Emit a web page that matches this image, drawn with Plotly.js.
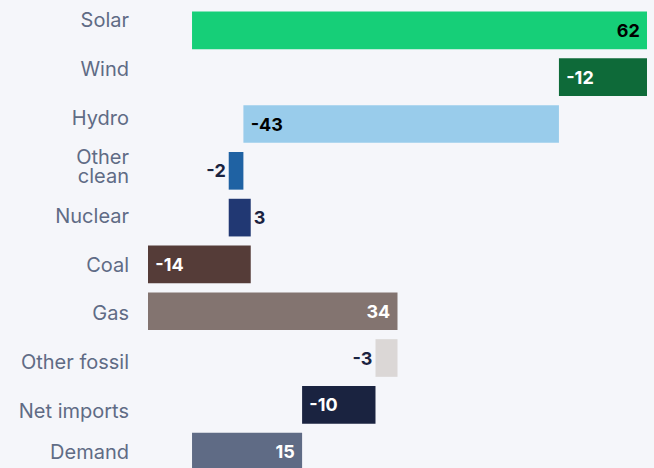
<!DOCTYPE html>
<html>
<head>
<meta charset="utf-8">
<script src="https://cdn.plot.ly/plotly-3.0.1.min.js"></script>
<style>
  html, body { margin: 0; padding: 0; background: #f5f6fa; }
  #chart { width: 654px; height: 468px; }
</style>
</head>
<body>
<div id="chart"></div>
<script>
const categories = ["Solar", "Wind", "Hydro", "Other<br>clean", "Nuclear", "Coal", "Gas", "Other fossil", "Net imports", "Demand"];
const changes = [62, -12, -43, -2, 3, -14, 34, -3, -10, 15];
const measures = ["relative", "relative", "relative", "relative", "relative", "relative", "relative", "relative", "relative", "total"];
const barColors = ["#16cf78", "#0e6a39", "#99cceb", "#1f62a3", "#213873", "#553c38", "#837470", "#dbd7d6", "#1a2340", "#5f6b85"];
const textPositions = ["inside", "inside", "inside", "outside", "outside", "inside", "inside", "outside", "inside", "inside"];
const textColors = ["#000000", "#ffffff", "#000000", "#1a2340", "#1a2340", "#ffffff", "#ffffff", "#1a2340", "#ffffff", "#ffffff"];

// waterfall bases computed from the changes
const bases = [];
let running = 0;
changes.forEach((v, i) => {
  if (measures[i] === "total") { bases.push(0); }
  else { bases.push(running); running += v; }
});
const NB = "\u00a0";
const labels = changes.map((v, i) => {
  const s = String(v);
  if (textPositions[i] !== "inside") return s;
  return v < 0 ? NB + s : s + NB;
});

// category label ticks (separate label axis; multi-line labels split into lines)
const LINE_GAP = 0.39;       // label line spacing in category units
const LAST_LABEL_MAX = 8.83; // keep the last label inside the frame
const labelVals = [], labelText = [];
categories.forEach((c, i) => {
  const pos = Math.min(i, LAST_LABEL_MAX);
  const lines = c.split("<br>");
  lines.forEach((ln, k) => {
    labelVals.push(pos + (k - (lines.length - 1) / 2) * LINE_GAP);
    labelText.push(ln);
  });
});

const FONT = "Inter, 'Open Sans', sans-serif";

const trace = {
  type: "bar",
  orientation: "h",
  y: categories,
  x: changes,
  base: bases,
  marker: { color: barColors, line: { width: 0 } },
  text: labels,
  textposition: textPositions,
  insidetextanchor: "end",
  textfont: { family: FONT, size: 18, color: textColors, weight: 700 },
  constraintext: "none",
  cliponaxis: false,
  hoverinfo: "skip"
};

// invisible carrier so the label axis is drawn
const labelCarrier = {
  type: "scatter",
  mode: "markers",
  x: labelVals.map(() => 0),
  y: labelVals,
  yaxis: "y2",
  marker: { opacity: 0, size: 1 },
  hoverinfo: "skip",
  showlegend: false
};

const layout = {
  width: 654,
  height: 468,
  margin: { l: 148, r: 7, t: 7, b: 0, pad: 0 },
  paper_bgcolor: "#f5f6fa",
  plot_bgcolor: "#f5f6fa",
  showlegend: false,
  bargap: 0.195,
  font: { family: FONT, color: "#5f6b85", size: 20 },
  xaxis: {
    range: [-6, 62],
    showgrid: false,
    zeroline: false,
    showticklabels: false,
    showline: false,
    fixedrange: true
  },
  yaxis: {
    type: "category",
    range: [9.35, -0.5],
    showgrid: false,
    zeroline: false,
    showline: false,
    ticks: "",
    showticklabels: false,
    fixedrange: true
  },
  yaxis2: {
    type: "linear",
    overlaying: "y",
    side: "left",
    range: [9.161, -0.266],
    tickmode: "array",
    tickvals: labelVals,
    ticktext: labelText,
    showgrid: false,
    zeroline: false,
    showline: false,
    ticks: "",
    ticklabelstandoff: 18,
    tickfont: { family: FONT, size: 20, color: "#5f6b85" },
    fixedrange: true
  }
};

Plotly.newPlot("chart", [trace, labelCarrier], layout, { displayModeBar: false, staticPlot: true });
</script>
</body>
</html>
